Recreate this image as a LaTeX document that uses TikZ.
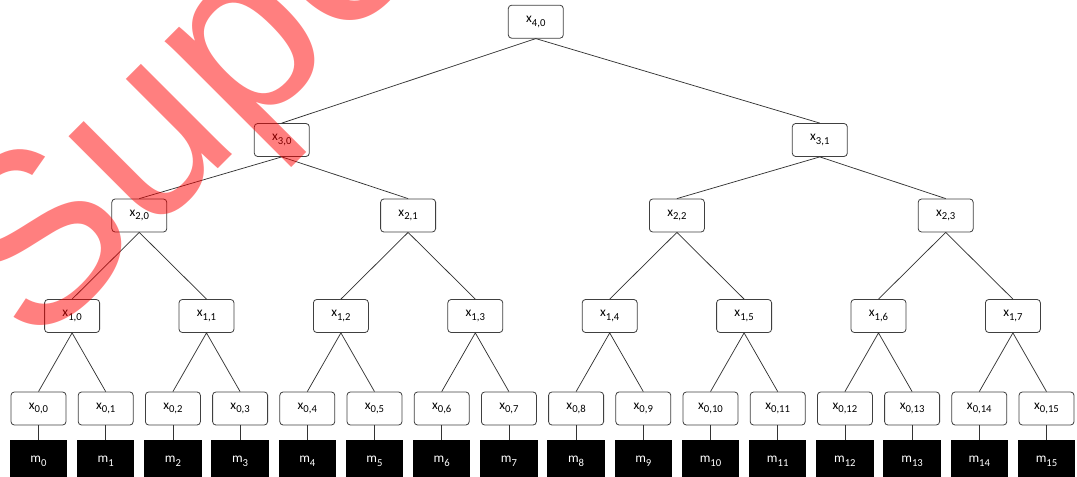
\documentclass[tikz,border=0pt]{standalone}
\usepackage{fontspec}
\setmainfont{Carlito}
\newfontfamily\stampfont{Liberation Sans}
\newcommand{\subidx}[1]{\raisebox{-2.8pt}{\fontsize{8}{8}\selectfont#1}}
\colorlet{box edge}{black!75}
\colorlet{link line}{black!80}
\colorlet{stamp red}{red}
\tikzset{xbox/.style={draw=box edge, line width=0.6pt, rounded corners=2.5pt, fill=white,
		minimum width=41.25pt, minimum height=24.75pt, inner sep=0pt, font=\fontsize{10}{12}\selectfont},
	mbox/.style={fill=black, text=white, minimum width=43pt, minimum height=31.5pt,
		inner sep=0pt, font=\fontsize{10}{12}\selectfont},
	link/.style={draw=link line, line width=0.55pt},
	stamp/.style={text=stamp red, text opacity=0.5, inner sep=0pt, font=\stampfont\fontsize{182}{182}\selectfont}}

\begin{document}
\begin{tikzpicture}[x=0.75pt,y=-0.75pt]
		\useasboundingbox (0,0) rectangle (1077,477);
		% leaves and messages
		\foreach \i in {0,...,15} {
			\node[xbox] (x0-\i) at ({38.5+67.2*\i},408.5) {x\subidx{0,\i}};
			\node[mbox] (m\i) at ({38.5+67.2*\i},461) {m\subidx{\i}};
			\draw[link] (x0-\i.south) -- (m\i.north);
		}
		\foreach \j in {0,...,7} {
			\pgfmathtruncatemacro\a{2*\j}
			\pgfmathtruncatemacro\b{2*\j+1}
			\node[xbox] (x1-\j) at ({72.1+134.4*\j},316) {x\subidx{1,\j}};
			\draw[link] (x1-\j.south) -- (x0-\a.north) (x1-\j.south) -- (x0-\b.north);
		}
		\foreach \k in {0,...,3} {
			\pgfmathtruncatemacro\a{2*\k}
			\pgfmathtruncatemacro\b{2*\k+1}
			\node[xbox] (x2-\k) at ({139.3+268.8*\k},215.5) {x\subidx{2,\k}};
			\draw[link] (x2-\k.south) -- (x1-\a.north) (x2-\k.south) -- (x1-\b.north);
		}
		\foreach \l/\px in {0/281.8,1/819.8} {
			\pgfmathtruncatemacro\a{2*\l}
			\pgfmathtruncatemacro\b{2*\l+1}
			\node[xbox] (x3-\l) at (\px,140) {x\subidx{3,\l}};
			\draw[link] (x3-\l.south) -- (x2-\a.north) (x3-\l.south) -- (x2-\b.north);
		}
		\node[xbox] (x4-0) at (535.8,21.7) {x\subidx{4,0}};
		\draw[link] (x4-0.south) -- (x3-0.north) (x4-0.south) -- (x3-1.north);
		
		% watermark
		\begin{scope}
			\clip (0,0) rectangle (1077,477);
			\node[stamp, rotate=45, anchor=base west] (wm) at (34,353.5) {Supe};
		\end{scope}
		\end{tikzpicture}
\end{document}
